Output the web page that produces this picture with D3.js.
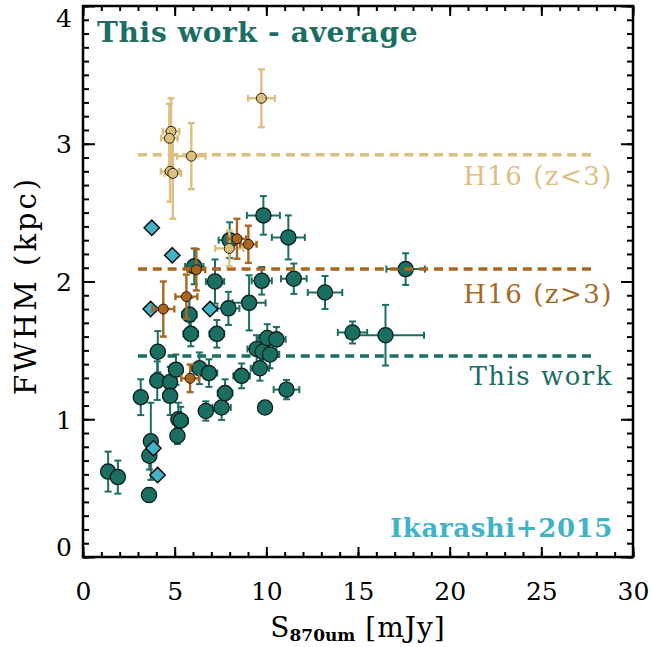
<!DOCTYPE html>
<html>
<head>
<meta charset="utf-8">
<script src="https://cdn.jsdelivr.net/npm/d3@7"></script>
<style>
  html, body { margin: 0; padding: 0; background: #fff; }
  svg { display: block; }
  text { font-family: "DejaVu Serif", serif; }
</style>
</head>
<body>
<svg id="chart" width="653" height="647"></svg>
<script>
// ---- Data ----------------------------------------------------------------
// This work (ALMA sources): flux density [mJy], FWHM [kpc] and 1-sigma errors
const workS     = [1.37, 1.9, 3.15, 3.6, 3.62, 3.7, 4.05, 4.08, 4.75, 4.75, 5.07, 5.2, 5.33, 5.15, 5.8, 5.88, 6.07, 6.35, 6.87, 6.7, 7.2, 7.3, 7.56, 7.75, 7.93, 8.0, 8.65, 9.06, 9.47, 9.65, 9.75, 9.84, 9.93, 9.8, 10.05, 10.2, 10.55, 11.1, 11.2, 11.5, 13.2, 14.7, 16.5, 17.6];
const workFWHM  = [0.62, 0.58, 1.16, 0.45, 0.735, 0.84, 1.28, 1.49, 1.27, 1.17, 1.36, 1.0, 0.99, 0.88, 1.76, 1.62, 2.11, 1.37, 1.335, 1.06, 2.0, 1.62, 1.085, 1.19, 1.805, 2.3, 1.315, 1.845, 1.51, 1.37, 2.005, 2.48, 1.085, 1.49, 1.59, 1.47, 1.58, 1.215, 2.32, 2.02, 1.92, 1.63, 1.61, 2.09];
const workSErr  = [0, 0, 0, 0, 0, 0, 0, 0, 0, 0, 0.3, 0, 0.4, 0, 0.4, 0.4, 0.5, 0.4, 0.45, 0.3, 0.5, 0.4, 0.5, 0.4, 0.6, 0.6, 0.45, 0.9, 0.5, 0.5, 0.55, 0.9, 0, 0.5, 0.5, 0.5, 0.5, 0.7, 0.9, 0.7, 0.94, 0.8, 2.1, 1.05];
const workFErr  = [0.145, 0.12, 0.13, 0.05, 0.1, 0.28, 0.14, 0.15, 0.11, 0.14, 0.11, 0.12, 0.1, 0.06, 0.12, 0.09, 0.13, 0.115, 0.1, 0.07, 0.16, 0.1, 0.09, 0.1, 0.12, 0.13, 0.09, 0.2, 0.1, 0.09, 0.1, 0.14, 0, 0.1, 0.1, 0.1, 0.09, 0.07, 0.16, 0.11, 0.12, 0.08, 0.22, 0.115];

// Hodge+2016, z < 3
const lowzS    = [9.73, 4.8, 4.71, 5.91, 4.75, 4.9, 7.98];
const lowzFWHM = [3.33, 3.09, 3.04, 2.91, 2.80, 2.785, 2.24];
const lowzSErr = [0.73, 0.45, 0.45, 0.77, 0.5, 0.45, 0.77];
const lowzFErr = [0.21, 0.24, 0.25, 0.24, 0.22, 0.33, 0.13];

// Hodge+2016, z > 3
const highzS    = [8.4, 9.02, 6.18, 5.64, 4.38, 5.84];
const highzFWHM = [2.31, 2.27, 2.085, 1.89, 1.80, 1.297];
const highzSErr = [0.5, 0.45, 0.48, 0.6, 0.6, 0.48];
const highzFErr = [0.145, 0.135, 0.15, 0.16, 0.2, 0.1];

// Ikarashi+2015
const ikaS    = [3.75, 4.87, 3.69, 6.93, 3.84, 4.07];
const ikaFWHM = [2.39, 2.19, 1.80, 1.80, 0.79, 0.595];

// Sample averages drawn as dashed lines
const avgNames  = ["H16 (z<3)", "H16 (z>3)", "This work"];
const avgValues = [2.92, 2.09, 1.46];
const avgRange  = [3, 28];

// Axis ticks
const xMajorTicks = [0, 5, 10, 15, 20, 25, 30];
const yMajorTicks = [0, 1, 2, 3, 4];

// ---- Styles --------------------------------------------------------------
const TEAL = "#1b6e62", TAN = "#dcbf7e", BROWN = "#a8661f", CYAN = "#42b3c6";
const avgColors = [TAN, BROWN, TEAL];

// ---- Scales --------------------------------------------------------------
const svg = d3.select("#chart");
const L = 83, R = 633, T = 6, B = 557;
const x = d3.scaleLinear().domain([0, 30]).range([L, R]);
const y = d3.scaleLinear().domain([0, 4]).range([B, T]);

const rows = (xs, ys, ex, ey) => xs.map((v, i) => ({ s: v, f: ys[i], es: ex ? ex[i] : 0, ef: ey ? ey[i] : 0 }));
const work  = rows(workS, workFWHM, workSErr, workFErr);
const lowz  = rows(lowzS, lowzFWHM, lowzSErr, lowzFErr);
const highz = rows(highzS, highzFWHM, highzSErr, highzFErr);
const ika   = rows(ikaS, ikaFWHM);

// ---- Helpers -------------------------------------------------------------
function errorBars(g, data, color, cap, width) {
  const eg = g.append("g").attr("stroke", color).attr("stroke-width", width).attr("fill", "none");
  data.forEach(d => {
    if (d.ef > 0) {
      const y0 = y(d.f - d.ef), y1 = y(d.f + d.ef), cx = x(d.s);
      eg.append("line").attr("x1", cx).attr("x2", cx).attr("y1", y0).attr("y2", y1);
      eg.append("line").attr("x1", cx - cap).attr("x2", cx + cap).attr("y1", y0).attr("y2", y0);
      eg.append("line").attr("x1", cx - cap).attr("x2", cx + cap).attr("y1", y1).attr("y2", y1);
    }
    if (d.es > 0) {
      const x0 = x(d.s - d.es), x1 = x(d.s + d.es), cy = y(d.f);
      eg.append("line").attr("x1", x0).attr("x2", x1).attr("y1", cy).attr("y2", cy);
      eg.append("line").attr("x1", x0).attr("x2", x0).attr("y1", cy - cap).attr("y2", cy + cap);
      eg.append("line").attr("x1", x1).attr("x2", x1).attr("y1", cy - cap).attr("y2", cy + cap);
    }
  });
}

function avgLine(i) {
  svg.append("line")
    .attr("x1", x(avgRange[0])).attr("x2", x(avgRange[1]))
    .attr("y1", y(avgValues[i])).attr("y2", y(avgValues[i]))
    .attr("stroke", avgColors[i]).attr("stroke-width", 3.5)
    .attr("stroke-dasharray", "9,5.8");
}

// ---- Marks ---------------------------------------------------------------
// average for this work sits beneath its own points
avgLine(2);

const gWork = svg.append("g");
errorBars(gWork, work, TEAL, 3.5, 2);
gWork.selectAll("circle").data(work).join("circle")
  .attr("cx", d => x(d.s)).attr("cy", d => y(d.f)).attr("r", 7.6)
  .attr("fill", TEAL).attr("stroke", "#0b1f1b").attr("stroke-width", 1.3);

avgLine(0);
avgLine(1);

svg.append("g").selectAll("path").data(ika).join("path")
  .attr("d", d3.symbol(d3.symbolDiamond2, 150))
  .attr("transform", d => `translate(${x(d.s)},${y(d.f)})`)
  .attr("fill", CYAN).attr("stroke", "#111").attr("stroke-width", 1.5);

const gLow = svg.append("g");
errorBars(gLow, lowz, TAN, 3.5, 2.4);
gLow.selectAll("circle").data(lowz).join("circle")
  .attr("cx", d => x(d.s)).attr("cy", d => y(d.f)).attr("r", 5)
  .attr("fill", TAN).attr("stroke", "#2a2010").attr("stroke-width", 1);

const gHigh = svg.append("g");
errorBars(gHigh, highz, BROWN, 3.5, 2.4);
gHigh.selectAll("circle").data(highz).join("circle")
  .attr("cx", d => x(d.s)).attr("cy", d => y(d.f)).attr("r", 5)
  .attr("fill", BROWN).attr("stroke", "#24160a").attr("stroke-width", 1);

// ---- Axes (ticks point inward on all four sides) ------------------------
const xMinor = d3.range(0, 31, 1);
const yMinor = d3.range(0, 4.001, 0.1).map(v => +v.toFixed(1));

function styleAxis(g) {
  g.select(".domain").remove();
  g.selectAll("line").attr("stroke", "#000").attr("stroke-width", 2);
  g.selectAll("text").attr("fill", "#000").style("font-size", "25px")
    .style("font-family", "'DejaVu Serif', serif");
}

svg.append("g").attr("transform", `translate(0,${B})`)
  .call(d3.axisBottom(x).tickValues(xMinor).tickSize(-5).tickFormat("")).call(styleAxis);
svg.append("g").attr("transform", `translate(0,${B})`)
  .call(d3.axisBottom(x).tickValues(xMajorTicks).tickSize(-10).tickPadding(25).tickFormat(d3.format("d")))
  .call(styleAxis);
svg.append("g").attr("transform", `translate(0,${T})`)
  .call(d3.axisTop(x).tickValues(xMinor).tickSize(-5).tickFormat("")).call(styleAxis);
svg.append("g").attr("transform", `translate(0,${T})`)
  .call(d3.axisTop(x).tickValues(xMajorTicks).tickSize(-10).tickFormat("")).call(styleAxis);

svg.append("g").attr("transform", `translate(${L},0)`)
  .call(d3.axisLeft(y).tickValues(yMinor).tickSize(-6).tickFormat("")).call(styleAxis);
const yAxis = svg.append("g").attr("transform", `translate(${L},0)`)
  .call(d3.axisLeft(y).tickValues(yMajorTicks).tickSize(-12).tickPadding(11).tickFormat(d3.format("d")))
  .call(styleAxis);
// keep the end labels inside the frame height
yAxis.selectAll(".tick text").attr("dy", d => d === 4 ? "0.8em" : d === 0 ? "-0.05em" : "0.36em");
svg.append("g").attr("transform", `translate(${R},0)`)
  .call(d3.axisRight(y).tickValues(yMinor).tickSize(-6).tickFormat("")).call(styleAxis);
svg.append("g").attr("transform", `translate(${R},0)`)
  .call(d3.axisRight(y).tickValues(yMajorTicks).tickSize(-12).tickFormat("")).call(styleAxis);

// frame
svg.append("rect").attr("x", L).attr("y", T).attr("width", R - L).attr("height", B - T)
  .attr("fill", "none").attr("stroke", "#000").attr("stroke-width", 2.5);

// ---- Labels --------------------------------------------------------------
svg.append("text").attr("x", 97).attr("y", 42)
  .attr("fill", TEAL).style("font-size", "28px").style("font-weight", "bold")
  .style("letter-spacing", "0.7px")
  .text("This work - average");

const avgLabelY = [185, 303, 385];
avgNames.forEach((n, i) => {
  svg.append("text").attr("x", 613).attr("y", avgLabelY[i]).attr("text-anchor", "end")
    .attr("fill", avgColors[i]).style("font-size", "26px").style("letter-spacing", "1.5px").text(n);
});

svg.append("text").attr("x", 613).attr("y", 537).attr("text-anchor", "end")
  .attr("fill", CYAN).style("font-size", "26px").style("font-weight", "bold")
  .style("letter-spacing", "0.6px")
  .text("Ikarashi+2015");

svg.append("text")
  .attr("transform", `translate(36,${(T + B) / 2 + 4}) rotate(-90)`)
  .attr("text-anchor", "middle").style("font-size", "29px").style("letter-spacing", "3px")
  .text("FWHM (kpc)");

const xl = svg.append("text").attr("x", (L + R) / 2).attr("y", 637)
  .attr("text-anchor", "middle").style("font-size", "28px");
xl.append("tspan").text("S");
xl.append("tspan").attr("dy", 4).style("font-size", "17px").style("font-weight", "bold").text("870um");
xl.append("tspan").attr("dy", -4).style("letter-spacing", "1px").text(" [mJy]");
</script>
</body>
</html>
